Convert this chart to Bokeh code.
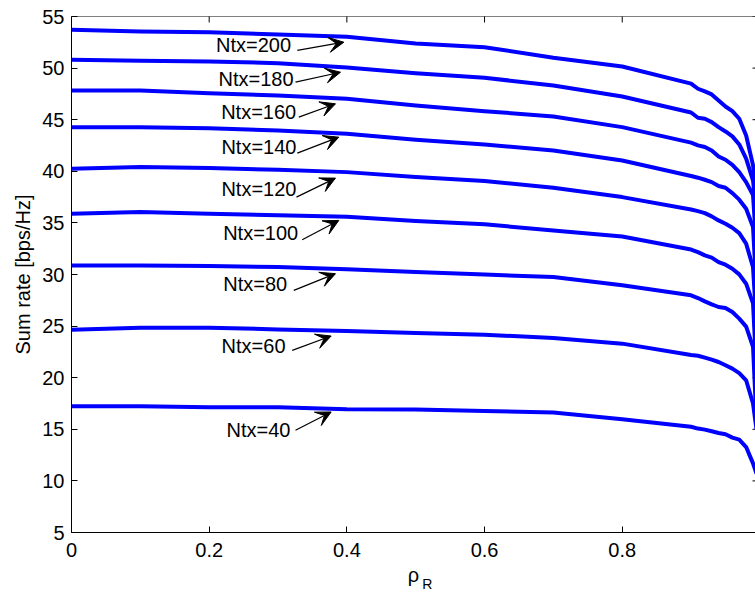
import math
from bokeh.plotting import figure
from bokeh.models import (ColumnDataSource, FixedTicker, Arrow, VeeHead, LinearAxis,
                          Range1d, Span, CustomJSTickFormatter)
from bokeh.core.properties import value
from bokeh.embed import file_html
from bokeh.resources import INLINE

# ---------------- data ----------------
rho = [0, 0.1, 0.2, 0.3, 0.4, 0.5, 0.6, 0.7, 0.8, 0.9,
       0.91, 0.92, 0.93, 0.94, 0.95, 0.96, 0.97, 0.98, 0.99, 0.995]

rate_ntx200 = [53.71, 53.55, 53.48, 53.26, 53.03, 52.38, 52.03, 51.00, 50.16, 48.50,
               48.00, 47.74, 47.45, 46.86, 46.28, 45.83, 45.09, 43.47, 40.60, 37.60]
rate_ntx180 = [50.80, 50.71, 50.64, 50.48, 50.05, 49.51, 49.06, 48.32, 47.25, 45.70,
               45.19, 45.09, 44.77, 44.28, 43.86, 43.38, 42.60, 41.22, 39.10, 36.10]
rate_ntx160 = [47.83, 47.83, 47.57, 47.35, 47.03, 46.38, 45.83, 45.31, 44.28, 42.78,
               42.51, 42.35, 42.02, 41.44, 41.12, 40.63, 39.92, 38.95, 37.70, 32.50]
rate_ntx140 = [44.28, 44.28, 44.18, 43.96, 43.64, 43.05, 42.60, 42.02, 41.05, 39.55,
               39.38, 39.18, 38.95, 38.57, 38.41, 37.89, 37.25, 36.37, 34.60, 28.40]
rate_ntx120 = [40.25, 40.41, 40.31, 40.15, 39.92, 39.44, 39.05, 38.41, 37.50, 36.30,
               36.14, 35.95, 35.63, 35.24, 34.92, 34.53, 34.01, 32.99, 30.70, 25.20]
rate_ntx100 = [35.89, 36.05, 35.89, 35.73, 35.60, 35.18, 34.86, 34.27, 33.69, 32.42,
               32.17, 31.85, 31.63, 31.20, 30.95, 30.56, 30.01, 29.11, 27.20, 20.60]
rate_ntx80 = [30.88, 30.88, 30.82, 30.72, 30.52, 30.25, 30.00, 29.75, 28.95, 27.98,
              27.72, 27.40, 27.11, 26.85, 26.75, 26.36, 25.72, 24.95, 23.00, 15.80]
rate_ntx60 = [24.65, 24.85, 24.85, 24.68, 24.52, 24.33, 24.17, 23.85, 23.30, 22.20,
              22.13, 21.94, 21.75, 21.52, 21.20, 20.88, 20.45, 19.75, 17.50, 15.00]
rate_ntx40 = [17.23, 17.23, 17.13, 17.13, 16.94, 16.91, 16.78, 16.62, 15.97, 15.25,
              15.07, 14.97, 14.81, 14.64, 14.52, 14.19, 14.00, 13.28, 11.70, 10.70]

series = [rate_ntx200, rate_ntx180, rate_ntx160, rate_ntx140, rate_ntx120,
          rate_ntx100, rate_ntx80, rate_ntx60, rate_ntx40]

ntx_labels = ["Ntx=200", "Ntx=180", "Ntx=160", "Ntx=140", "Ntx=120",
              "Ntx=100", "Ntx=80", "Ntx=60", "Ntx=40"]
# annotation text anchors (right end, middle) and arrows
label_x = [0.319, 0.3225, 0.3264, 0.3268, 0.3268, 0.3293, 0.3133, 0.3109, 0.3181]
label_y = [52.22, 48.92, 45.78, 42.34, 38.31, 34.03, 29.06, 23.11, 14.93]
arrow_x0 = [0.328, 0.3254, 0.3302, 0.328, 0.3268, 0.3351, 0.3229, 0.3206, 0.3254]
arrow_y0 = [51.71, 48.64, 45.25, 41.76, 37.50, 33.37, 28.46, 22.65, 14.90]
arrow_x1 = [0.3956, 0.3908, 0.3835, 0.3883, 0.3835, 0.3883, 0.3835, 0.3772, 0.3772]
arrow_y1 = [52.51, 49.60, 46.54, 43.31, 39.34, 35.24, 30.08, 24.04, 16.68]

x_ticks = [0, 0.2, 0.4, 0.6, 0.8, 1.0]
y_ticks = [5, 10, 15, 20, 25, 30, 35, 40, 45, 50, 55]
x_limits = (0, 0.9936)
y_limits = (5, 55)

FONT = "Liberation Sans"
FS = "20px"

p = figure(width=755, height=595, x_range=Range1d(*x_limits), y_range=Range1d(*y_limits),
           output_backend="svg", toolbar_location=None,
           min_border_left=71, min_border_right=0, min_border_top=16, min_border_bottom=63)
p.outline_line_color = None
p.xgrid.visible = False
p.ygrid.visible = False
p.background_fill_color = "white"
p.border_fill_color = "white"

for ax in (p.xaxis[0], p.yaxis[0]):
    ax.major_tick_in = 6
    ax.major_tick_out = 0
    ax.minor_tick_in = 0
    ax.minor_tick_out = 0
    ax.axis_line_color = "black"
    ax.major_tick_line_color = "black"
    ax.major_label_text_font = FONT
    ax.major_label_text_font_size = FS
    ax.major_label_text_color = "black"
    ax.axis_label_text_font = FONT
    ax.axis_label_text_font_size = FS
    ax.axis_label_text_font_style = "normal"
    ax.axis_label_text_color = "black"

p.xaxis[0].ticker = FixedTicker(ticks=x_ticks)
p.yaxis[0].ticker = FixedTicker(ticks=y_ticks)
p.xaxis[0].major_label_standoff = 10
p.xaxis[0].axis_label = "ρ"
p.xaxis[0].axis_label_standoff = 4
p.yaxis[0].major_label_standoff = 7
p.yaxis[0].axis_label = "Sum rate [bps/Hz]"
p.yaxis[0].axis_label_standoff = 5

# subscript "R" of the x-axis label (rho_R), drawn as the only label of a bare axis
sub_x = (x_limits[0] + x_limits[1]) / 2 + 0.02
sub_axis = LinearAxis(ticker=FixedTicker(ticks=[sub_x]),
                      formatter=CustomJSTickFormatter(code="return 'R'"),
                      axis_line_color=None, major_tick_line_color=None,
                      major_tick_in=0, major_tick_out=0, minor_tick_in=0, minor_tick_out=0,
                      major_label_standoff=-13, major_label_text_font=FONT,
                      major_label_text_font_size="14px", major_label_text_color="black")
p.add_layout(sub_axis, "below")

# box top edge and inward ticks on top / right sides (MATLAB box style)
p.add_layout(Span(location=y_limits[1], dimension="width", line_color="black", line_width=1))
p.scatter(x=x_ticks, y=[y_limits[1]] * len(x_ticks), marker="dash", angle=math.pi / 2,
          size=12, line_color="black", line_width=1)
p.scatter(x=[x_limits[1]] * len(y_ticks), y=y_ticks, marker="dash",
          size=6, line_color="black", line_width=1)

for s in series:
    p.line(rho, s, line_color="#0000ff", line_width=4, line_join="round")

p.text(x=label_x, y=label_y, text=ntx_labels, text_font=value(FONT), text_font_size=FS,
       text_align="right", text_baseline="middle", text_color="black")

arrow_src = ColumnDataSource(dict(x0=arrow_x0, y0=arrow_y0, x1=arrow_x1, y1=arrow_y1))
p.add_layout(Arrow(end=VeeHead(size=15, fill_color="black", line_color="black", line_width=1),
                   x_start="x0", y_start="y0", x_end="x1", y_end="y1", source=arrow_src,
                   line_color="black", line_width=1.2))

open("out.html", "w").write(file_html(p, INLINE))
